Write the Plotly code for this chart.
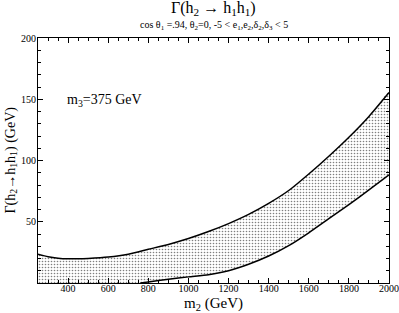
import plotly.graph_objects as go

# Upper boundary of the allowed band
upper_m2 = [250, 300, 350, 400, 450, 500, 600, 700, 800, 900, 1000, 1100, 1200,
            1300, 1400, 1500, 1600, 1700, 1800, 1900, 2000]
upper_gamma = [23.5, 21.5, 20.3, 19.8, 19.8, 20.1, 21.2, 23.5, 27.5, 31.5, 36.3,
               42.0, 48.5, 56.0, 65.0, 75.5, 89.0, 103.5, 119.0, 136.0, 155.5]

# Lower boundary of the allowed band
lower_m2 = [760, 800, 900, 1000, 1100, 1200, 1300, 1400, 1500, 1600, 1700,
            1800, 1900, 2000]
lower_gamma = [0.0, 0.9, 3.0, 5.0, 6.8, 10.0, 15.3, 22.0, 30.5, 41.0, 52.5,
               64.0, 76.0, 88.3]

x_ticks = [400, 600, 800, 1000, 1200, 1400, 1600, 1800, 2000]
y_ticks = [50, 100, 150, 200]

serif = "Liberation Serif, DejaVu Serif, serif"

fig = go.Figure()

# Filled band polygon
poly_x = upper_m2 + lower_m2[::-1] + [upper_m2[0]]
poly_y = upper_gamma + lower_gamma[::-1] + [0.0]
fig.add_trace(go.Scatter(
    x=poly_x, y=poly_y, mode="lines", fill="toself",
    line=dict(width=0, color="rgba(0,0,0,0)", shape="spline", smoothing=0.6),
    fillcolor="white",
    fillpattern=dict(shape=".", fgcolor="black", bgcolor="white",
                     size=3, solidity=0.24),
    hoverinfo="skip", showlegend=False))

fig.add_trace(go.Scatter(x=upper_m2, y=upper_gamma, mode="lines",
                         line=dict(color="black", width=1.5, shape="spline", smoothing=0.6),
                         showlegend=False))
fig.add_trace(go.Scatter(x=lower_m2, y=lower_gamma, mode="lines",
                         line=dict(color="black", width=1.5, shape="spline", smoothing=0.6),
                         showlegend=False))
# invisible trace to activate mirrored tick axes
fig.add_trace(go.Scatter(x=[upper_m2[0]], y=[upper_gamma[0]], xaxis="x2", yaxis="y2",
                         mode="markers", marker=dict(opacity=0), hoverinfo="skip",
                         showlegend=False))

tick_font = dict(family=serif, size=10, color="black")
common = dict(showgrid=False, zeroline=False, showline=True, linecolor="black",
              linewidth=1, ticks="inside", ticklen=5, tickcolor="black", tickwidth=1,
              automargin=False)

x_minor = dict(dtick=50, tick0=0, ticks="inside", ticklen=3, tickcolor="black")
y_minor = dict(dtick=10, tick0=0, ticks="inside", ticklen=3, tickcolor="black")

fig.update_layout(
    xaxis=dict(range=[250, 2000], tickmode="array", tickvals=x_ticks, minor=x_minor,
               tickfont=tick_font, ticklabeloverflow="allow", ticklabelstandoff=-4,
               **common),
    yaxis=dict(range=[0, 200], tickmode="array", tickvals=y_ticks, minor=y_minor,
               tickfont=tick_font, ticklabeloverflow="allow", ticklabelstandoff=-1,
               **common),
    xaxis2=dict(range=[250, 2000], overlaying="x", side="top", tickmode="array",
                tickvals=x_ticks, minor=x_minor, showticklabels=False, **common),
    yaxis2=dict(range=[0, 200], overlaying="y", side="right", tickmode="array",
                tickvals=y_ticks, minor=y_minor, showticklabels=False, **common),
)

fig.add_annotation(x=0.5, y=1.0, xref="paper", yref="paper", yshift=18,
                   text="Γ(h<sub>2</sub> → h<sub>1</sub>h<sub>1</sub>)",
                   showarrow=False, yanchor="bottom",
                   font=dict(family=serif, size=16, color="black"))
fig.add_annotation(x=0.5, y=1.0, xref="paper", yref="paper", yshift=4,
                   text="cos θ<sub>1</sub> =.94, θ<sub>2</sub>=0, -5 &lt; e<sub>1</sub>,e<sub>2</sub>,δ<sub>2</sub>,δ<sub>3</sub> &lt; 5",
                   showarrow=False, yanchor="bottom",
                   font=dict(family=serif, size=10, color="black"))
fig.add_annotation(x=0.076, y=0.745, xref="paper", yref="paper",
                   text="m<sub>3</sub>=375 GeV", showarrow=False,
                   xanchor="left", yanchor="middle",
                   font=dict(family=serif, size=14, color="black"))
# axis titles
fig.add_annotation(x=0.5, y=0.0, xref="paper", yref="paper", yshift=-21,
                   text="m<sub>2</sub> (GeV)", showarrow=False, yanchor="middle",
                   font=dict(family=serif, size=15, color="black"))
fig.add_annotation(x=0.0, y=0.5, xref="paper", yref="paper", xshift=-27,
                   text="Γ(h<sub>2</sub>→h<sub>1</sub>h<sub>1</sub>) (GeV)",
                   textangle=-90, showarrow=False, xanchor="center",
                   font=dict(family=serif, size=14, color="black"))

fig.update_layout(width=399, height=313, margin=dict(l=38, r=10, t=38, b=30),
                  plot_bgcolor="white", paper_bgcolor="white")

fig.write_html("out.html", config={"displayModeBar": False},
               post_script="document.body.style.margin='0px';document.body.style.padding='0px';document.body.style.overflow='hidden';")
